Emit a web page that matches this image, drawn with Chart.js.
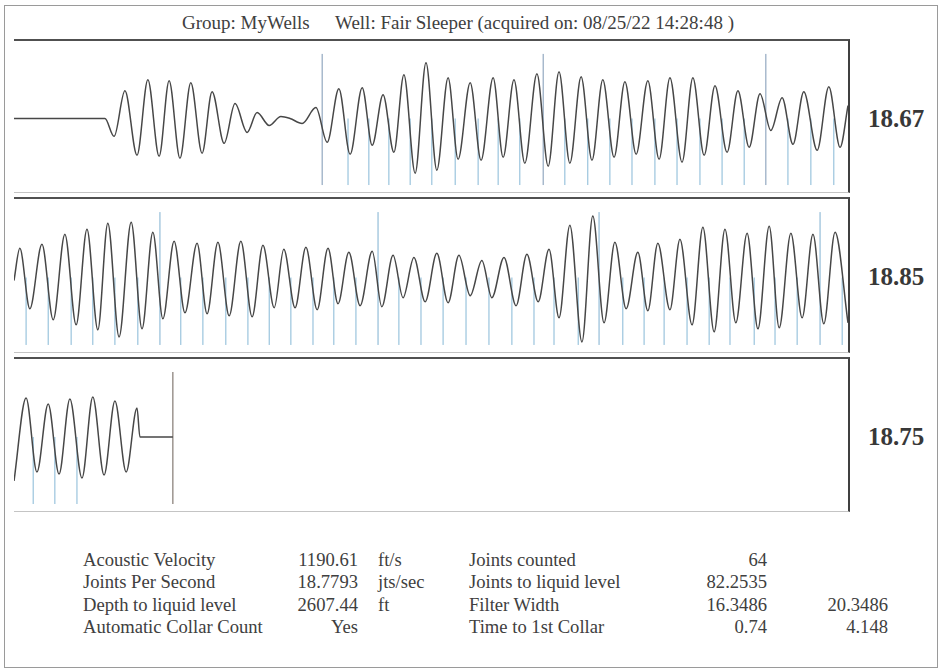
<!DOCTYPE html>
<html>
<head>
<meta charset="utf-8">
<script src="https://cdn.jsdelivr.net/npm/chart.js@4.4.1/dist/chart.umd.min.js"></script>
<style>
  body { margin: 0; width: 942px; height: 670px; background: #fff; position: relative; overflow: hidden;
         font-family: "Liberation Serif", "Times New Roman", serif; color: #404040; }
  .frame { position: absolute; left: 4px; top: 5px; width: 932px; height: 661px; border: 1px solid #9a9a9a; }
  .panel { position: absolute; left: 14px; width: 834px; border-top: 2px solid #505050;
           border-right: 2px solid #404040; border-bottom: 1px solid #c4c4c4; }
  .panel canvas { display: block; }
  .jps { position: absolute; left: 858px; width: 76px; text-align: center; font-weight: bold;
         font-size: 25px; line-height: 30px; color: #383838; }
  .t { position: absolute; font-size: 18.6px; line-height: 22px; white-space: pre; }
  .title { font-size: 19px; top: 12px; }
  .r { text-align: right; width: 110px; }
</style>
</head>
<body>
<div class="frame"></div>
<div class="t title" style="left:182px">Group: MyWells</div>
<div class="t title" style="left:335px">Well: Fair Sleeper (acquired on: 08/25/22 14:28:48 )</div>

<div class="panel" style="top:39px;height:151px"><canvas id="p1" width="834" height="151"></canvas></div>
<div class="panel" style="top:197px;height:153px"><canvas id="p2" width="834" height="153"></canvas></div>
<div class="panel" style="top:357px;height:152px"><canvas id="p3" width="834" height="152"></canvas></div>
<div id="jpsBox"></div>
<div id="stats"></div>

<script>
// panel 1: 0-2 s
const p1Time = [0, 0.218, 0.240, 0.266, 0.295, 0.321, 0.348, 0.372, 0.398, 0.424, 0.451, 0.475, 0.504, 0.530,
  0.559, 0.583, 0.612, 0.640, 0.662, 0.691, 0.724, 0.751, 0.779, 0.806, 0.835, 0.859, 0.885, 0.911, 0.935,
  0.962, 0.988, 1.014, 1.041, 1.065, 1.094, 1.120, 1.149, 1.173, 1.199, 1.225, 1.254, 1.281, 1.307, 1.333,
  1.360, 1.386, 1.412, 1.439, 1.465, 1.492, 1.520, 1.547, 1.573, 1.602, 1.628, 1.655, 1.681, 1.710, 1.736,
  1.763, 1.789, 1.815, 1.842, 1.868, 1.894, 1.926, 1.954, 1.981, 2.0];
const p1Amp = [-2, -2, -20, 26, -39, 37, -40, 36, -42, 34, -37, 25, -27, 13,
  -16, 4, -9, 0, -2, -7, 9, -26, 28, -38, 29, -29, 22, -36, 42,
  -57, 54, -54, 39, -43, 34, -44, 39, -41, 37, -47, 43, -50, 45, -47,
  40, -44, 37, -41, 35, -38, 36, -43, 39, -46, 39, -39, 31, -36, 26,
  -31, 23, -14, 19, -28, 25, -34, 30, -31, 11];
const p1Collars = [0.801, 0.851, 0.899, 0.950, 1.002, 1.058, 1.113, 1.161, 1.213, 1.321, 1.376, 1.429,
  1.482, 1.537, 1.590, 1.645, 1.698, 1.751, 1.856, 1.911, 1.966];
const p1TenJoints = [0.739, 1.269, 1.803];

// panel 2: 2-4 s
const p2Time = [2.000, 2.014, 2.038, 2.067, 2.094, 2.122, 2.149, 2.175, 2.201, 2.225, 2.252, 2.281, 2.307,
  2.333, 2.357, 2.384, 2.410, 2.439, 2.463, 2.489, 2.516, 2.544, 2.571, 2.597, 2.624, 2.647, 2.674, 2.700,
  2.727, 2.753, 2.777, 2.803, 2.830, 2.859, 2.882, 2.909, 2.933, 2.959, 2.986, 3.014, 3.041, 3.067, 3.094,
  3.122, 3.146, 3.175, 3.204, 3.230, 3.257, 3.283, 3.307, 3.333, 3.362, 3.388, 3.415, 3.441, 3.468, 3.496,
  3.520, 3.544, 3.573, 3.597, 3.626, 3.652, 3.679, 3.705, 3.731, 3.758, 3.784, 3.811, 3.835, 3.863, 3.890,
  3.916, 3.942, 3.969, 4.000];
const p2Amp = [-5, 27, -33, 31, -44, 41, -49, 46, -54, 52, -61, 53, -53,
  43, -43, 34, -37, 32, -38, 33, -40, 34, -41, 30, -32, 26, -32, 28,
  -34, 27, -28, 23, -30, 24, -31, 20, -22, 18, -26, 22, -27, 20, -20,
  15, -22, 18, -30, 21, -26, 26, -42, 50, -66, 59, -47, 33, -33, 23,
  -35, 32, -34, 36, -49, 48, -56, 46, -47, 42, -53, 49, -52, 42, -42,
  41, -48, 43, -47];
const p2Collars = [2.029, 2.082, 2.137, 2.189, 2.242, 2.297, 2.400, 2.453, 2.508, 2.561, 2.612, 2.664,
  2.717, 2.767, 2.820, 2.923, 2.976, 3.029, 3.084, 3.139, 3.194, 3.247, 3.295, 3.353, 3.460, 3.511,
  3.559, 3.614, 3.667, 3.717, 3.775, 3.825, 3.878, 3.986];
const p2TenJoints = [2.350, 2.873, 3.403, 3.933];

// panel 3: 4-6 s, ends at liquid level
const p3Time = [4.000, 4.029, 4.055, 4.082, 4.108, 4.134, 4.163, 4.189, 4.216, 4.242, 4.269, 4.295, 4.302, 4.381];
const p3Amp = [-46, 37, -37, 31, -39, 36, -43, 38, -40, 34, -37, 27, -2, -2];
const p3Collars = [4.046, 4.098, 4.151];
const p3LiquidLevel = [4.381];

const panelJps = ["18.67", "18.85", "18.75"];

const statLabels = ["Acoustic Velocity", "Joints Per Second", "Depth to liquid level", "Automatic Collar Count"];
const statValues = ["1190.61", "18.7793", "2607.44", "Yes"];
const statUnits = ["ft/s", "jts/sec", "ft", ""];
const countLabels = ["Joints counted", "Joints to liquid level", "Filter Width", "Time to 1st Collar"];
const countValues = ["64", "82.2535", "16.3486", "0.74"];
const extraValues = ["", "", "20.3486", "4.148"];

function markerData(times, lo, hi) {
  const d = [];
  times.forEach((t) => d.push({ x: t, y: lo }, { x: t, y: hi }, { x: t, y: null }));
  return d;
}

function panel(id, x0, time, amp, shortT, tallT, tallColor) {
  new Chart(document.getElementById(id), {
    type: "line",
    data: {
      datasets: [
        { data: time.map((t, i) => ({ x: t, y: amp[i] })), borderColor: "#474747", borderWidth: 1.5,
          pointRadius: 0, cubicInterpolationMode: "monotone" },
        { data: markerData(shortT, -69, -2), borderColor: "#86b8d6", borderWidth: 1, pointRadius: 0, spanGaps: false },
        { data: markerData(tallT, -69, 63), borderColor: tallColor, borderWidth: 1, pointRadius: 0, spanGaps: false },
      ],
    },
    options: {
      responsive: false,
      animation: false,
      events: [],
      layout: { padding: 0 },
      plugins: { legend: { display: false }, tooltip: { enabled: false } },
      scales: {
        x: { type: "linear", min: x0, max: x0 + 2, display: false },
        y: { min: -76, max: 76, display: false },
      },
    },
  });
}

panel("p1", 0, p1Time, p1Amp, p1Collars, p1TenJoints, "#7d97b4");
panel("p2", 2, p2Time, p2Amp, p2Collars, p2TenJoints, "#7fb0d0");
panel("p3", 4, p3Time, p3Amp, p3Collars, p3LiquidLevel, "#6a5f57");

const jpsTops = [104, 262, 422];
const jpsBox = document.getElementById("jpsBox");
panelJps.forEach((v, i) => {
  const d = document.createElement("div");
  d.className = "jps";
  d.style.top = jpsTops[i] + "px";
  d.textContent = v;
  jpsBox.appendChild(d);
});

const rowTops = [549, 571, 594, 616];
const stats = document.getElementById("stats");
function cell(text, left, top, right) {
  const d = document.createElement("div");
  d.className = right ? "t r" : "t";
  d.style.left = left + "px";
  d.style.top = top + "px";
  d.textContent = text;
  stats.appendChild(d);
}
rowTops.forEach((top, i) => {
  cell(statLabels[i], 83, top);
  cell(statValues[i], 248, top, true);
  cell(statUnits[i], 378, top);
  cell(countLabels[i], 469, top);
  cell(countValues[i], 657, top, true);
  cell(extraValues[i], 778, top, true);
});
</script>
</body>
</html>
